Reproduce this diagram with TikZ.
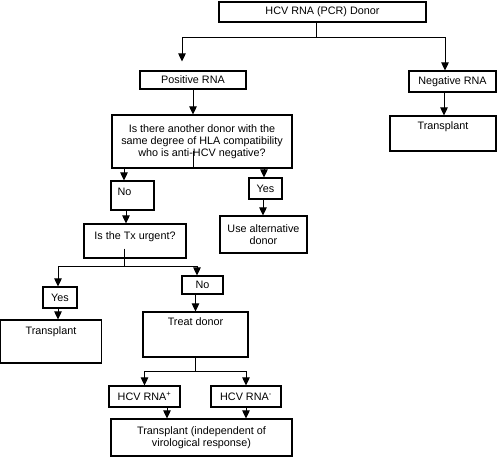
\documentclass[tikz,border=0pt]{standalone}
\usepackage{fontspec}
\setmainfont{Liberation Sans}
\usetikzlibrary{arrows.meta,calc}

\begin{document}
\begin{tikzpicture}[x=1pt, y=-1pt, font=\fontsize{10.8}{12}\selectfont,
  box/.style={draw, line width=1.1pt, inner sep=0pt, align=center},
  lbl/.style={anchor=north, inner sep=0pt, yshift=-6pt},
  ln/.style={line width=0.9pt},
  arr/.style={-{Triangle[length=8pt, width=7.5pt]}, line width=0.9pt}]
\useasboundingbox (0,0) rectangle (498,457);
% donor test and its two results
\node[box, minimum width=207pt, minimum height=20pt] (donor) at (322.5,12) {HCV RNA (PCR) Donor};
\node[box, minimum width=106pt, minimum height=18pt] (pos) at (193,80) {Positive RNA};
\node[box, minimum width=87pt, minimum height=21pt] (neg) at (452.5,81.5) {Negative RNA};
\node[box, minimum width=106pt, minimum height=35pt, label={[lbl]north:Transplant}] (txR) at (443,133.5) {};
% positive branch
\node[box, minimum width=180pt, minimum height=53pt] (quest) at (202,141.5) {Is there another donor with the\\ same degree of HLA compatibility\\ who is anti-HCV negative?};
\node[box, minimum width=43pt, minimum height=29pt, label={[lbl, anchor=north west, xshift=7pt, yshift=-1pt]north west:No}] (no1) at (132.5,195.5) {};
\node[box, minimum width=33pt, minimum height=21pt] (yes1) at (265.5,188.5) {Yes};
\node[box, minimum width=87pt, minimum height=37pt] (alt) at (263.5,234.5) {Use alternative\\ donor};
\node[box, minimum width=102pt, minimum height=34pt, label={[lbl, yshift=-2pt]north:Is the Tx urgent?}] (urg) at (135,241) {};
\node[box, minimum width=34pt, minimum height=21pt] (yes2) at (60,297.5) {Yes};
\node[box, minimum width=41pt, minimum height=18pt] (no2) at (202.5,285) {No};
\node[box, minimum width=101pt, minimum height=43pt, label={[lbl, yshift=-1pt]north:Transplant}] (txL) at (51,341.5) {};
\node[box, minimum width=105pt, minimum height=45pt, label={[lbl]north:Treat donor}] (treat) at (195.5,334.5) {};
\node[box, minimum width=71pt, minimum height=21pt] (rnap) at (144.5,396.5) {HCV RNA\textsuperscript{+}};
\node[box, minimum width=70pt, minimum height=21pt] (rnam) at (246,396.5) {HCV RNA\textsuperscript{-}};
\node[box, minimum width=181pt, minimum height=37pt] (txB) at (201.5,437.5) {Transplant (independent of\\ virological response)};
% connectors
\coordinate (s1) at ($(donor.south)+(-6.5,15)$);
\draw[ln] (donor.south -| s1) -- (s1);
\draw[arr] (s1) -| ([xshift=-11pt, yshift=9pt]pos.north);
\draw[arr] (s1) -| ([xshift=-7.5pt]neg.north);
\draw[arr] (pos.south) -- (pos.south |- quest.north);
\draw[arr] ([xshift=-8.5pt]neg.south) -- ([xshift=-8.5pt]neg.south |- txR.north);
\coordinate (s2) at (quest.south -| pos.south);
\draw[ln] ([yshift=18pt]s2) -- (s2);
\draw[arr] (s2) -| ([xshift=-8.5pt]no1.north);
\draw[arr] (s2) -| ([xshift=-1.5pt]yes1.north);
\draw[arr] ([xshift=-2.5pt]yes1.south) -- ([xshift=-2.5pt]yes1.south |- alt.north);
\draw[arr] ([xshift=-6.5pt]no1.south) -- ([xshift=-6.5pt]no1.south |- urg.north);
\coordinate (s3) at ($(urg.south)+(-11,8)$);
\draw[ln] ($(urg.south)+(-11,-10)$) -- (s3);
\draw[arr] (s3) -| ([xshift=-2pt]yes2.north);
\draw[arr] (s3) -| ([xshift=-5.5pt]no2.north);
\draw[arr] ([xshift=-2pt]yes2.south) -- ([xshift=-2pt]yes2.south |- txL.north);
\draw[arr] (no2.south -| treat.north) -- (treat.north);
\coordinate (s4) at ($(treat.south)+(0,14)$);
\draw[ln] (treat.south) -- (s4);
\draw[arr] (s4) -| (rnap.north);
\draw[arr] (s4) -| (rnam.north);
\draw[arr] ([xshift=22.5pt]rnap.south) -- ([xshift=22.5pt]rnap.south |- txB.north);
\draw[arr] (rnam.south) -- (rnam.south |- txB.north);
\end{tikzpicture}
\end{document}
